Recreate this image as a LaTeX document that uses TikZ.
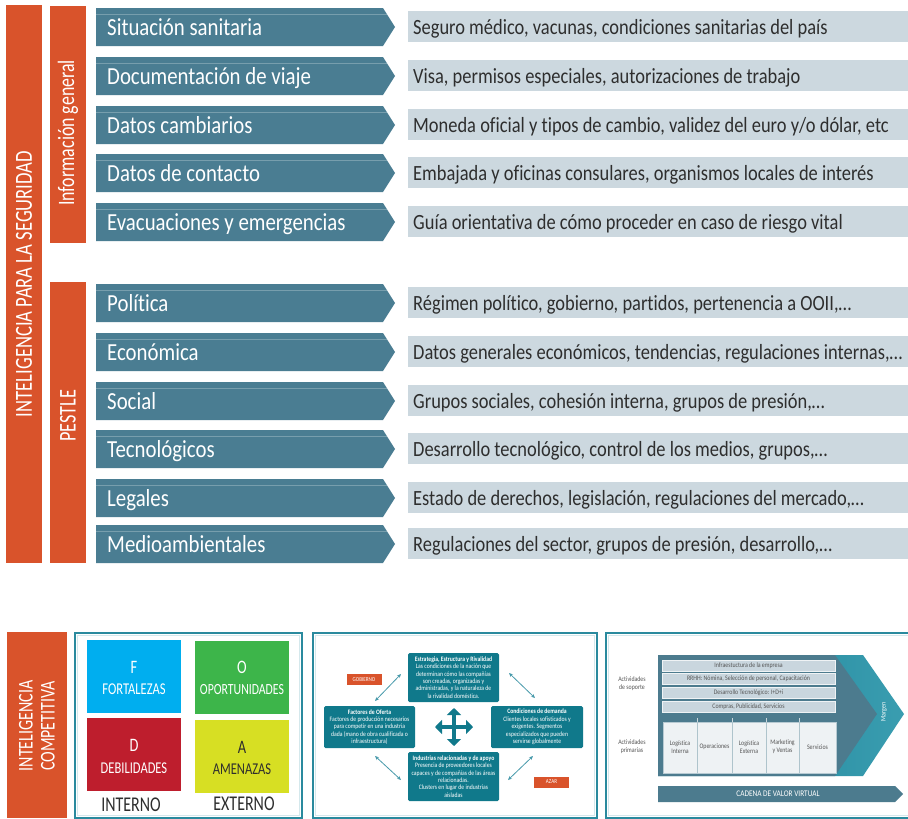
\documentclass[tikz,border=0pt]{standalone}
\usepackage{fontspec}
\setmainfont{Carlito}[FakeStretch=0.85,Ligatures=NoCommon]
\newfontfamily\headfont{Carlito}[FakeStretch=0.76,Ligatures=NoCommon]
\usetikzlibrary{arrows.meta}
\definecolor{orng}{HTML}{D9532B}
\definecolor{slate}{HTML}{4A7D92}
\definecolor{greybox}{HTML}{CCD8DF}
\definecolor{tealbox}{HTML}{10798B}
\definecolor{panelb}{HTML}{2A8A9E}
\definecolor{vcdark}{HTML}{4C7B8E}
\definecolor{vcband}{HTML}{1A8196}
\definecolor{vclight}{HTML}{3A9DB0}
\definecolor{supbox}{HTML}{C9D6DE}
\definecolor{primbox}{HTML}{EEF2F4}
\definecolor{swF}{HTML}{00AEEF}
\definecolor{swO}{HTML}{3DB54A}
\definecolor{swD}{HTML}{BE1E2D}
\definecolor{swA}{HTML}{D7DF23}
\definecolor{txtdark}{HTML}{2E2E2E}
\definecolor{txtgrey}{HTML}{555555}
\begin{document}
\begin{tikzpicture}[x=1pt,y=-1pt,
  bar/.style={fill=orng},
  vlabel/.style={text=white,inner sep=0,font=\headfont\fontsize{24.5}{26}\selectfont},
  arrtext/.style={text=white,inner sep=0,anchor=base west,font=\fontsize{24.5}{26}\selectfont},
  gtext/.style={text=txtdark,inner sep=0,anchor=base west,font=\fontsize{21.7}{24}\selectfont},
  panel/.style={draw=panelb,line width=1.6},
  panelin/.style={draw=white!80!panelb,line width=0.6},
  swbig/.style={inner sep=0,font=\headfont\fontsize{19}{22}\selectfont},
  swword/.style={inner sep=0,font=\headfont\fontsize{16.5}{19}\selectfont},
  pbox/.style={fill=tealbox,rounded corners=1.5,text=white,align=center,inner sep=1,font=\fontsize{6.7}{7.4}\selectfont},
  tag/.style={fill=orng,text=white,inner sep=0,minimum width=35,minimum height=11,font=\fontsize{6}{6.5}\selectfont},
  diag/.style={draw=vcband!80!white,line width=0.8,{Stealth[length=4,width=3.5]}-{Stealth[length=4,width=3.5]}},
  cross/.style={draw=tealbox,line width=4.5,-{Triangle[length=7,width=14]}},
  sup/.style={fill=supbox,draw=white!70!supbox,line width=0.6,text=txtgrey,inner sep=0,minimum width=173,minimum height=11,font=\fontsize{6.9}{7}\selectfont},
  prim/.style={text=txtgrey,align=center,inner sep=0,font=\fontsize{6.9}{7.8}\selectfont},
  side/.style={text=txtgrey,align=center,inner sep=0,font=\fontsize{6.9}{8}\selectfont}]
\useasboundingbox[fill=white] (0,0) rectangle (908,819);

% ---------- top section bars
\fill[bar] (6,5) rectangle (42,563);
\node[vlabel,rotate=90] (seg) at (24,284) {INTELIGENCIA PARA LA SEGURIDAD};
\fill[bar] (50,6) rectangle (86,243);
\node[vlabel,rotate=90,font=\headfont\fontsize{23.5}{24}\selectfont] (info) at (68,133) {Información general};
\fill[bar] (50,282) rectangle (86,563);
\node[vlabel,rotate=90,font=\headfont\fontsize{24}{24}\selectfont] (pestle) at (68,416) {PESTLE};

% ---------- rows
\foreach \t/\i/\a/\g in {
  8/1/{Situación sanitaria}/{Seguro médico, vacunas, condiciones sanitarias del país},
  57/2/{Documentación de viaje}/{Visa, permisos especiales, autorizaciones de trabajo},
  106/3/{Datos cambiarios}/{Moneda oficial y tipos de cambio, validez del euro y/o dólar, etc},
  154/4/{Datos de contacto}/{Embajada y oficinas consulares, organismos locales de interés},
  203/5/{Evacuaciones y emergencias}/{Guía orientativa de cómo proceder en caso de riesgo vital},
  284/6/{Política}/{Régimen político, gobierno, partidos, pertenencia a OOII,…},
  333/7/{Económica}/{Datos generales económicos, tendencias, regulaciones internas,…},
  382/8/{Social}/{Grupos sociales, cohesión interna, grupos de presión,…},
  430/9/{Tecnológicos}/{Desarrollo tecnológico, control de los medios, grupos,…},
  479/10/{Legales}/{Estado de derechos, legislación, regulaciones del mercado,…},
  525/11/{Medioambientales}/{Regulaciones del sector, grupos de presión, desarrollo,…}}{
  \fill[slate] (96,\t) -- (383,\t) -- (395,{\t+19}) -- (383,{\t+38}) -- (96,{\t+38}) -- cycle;
  \draw[white!25!slate,line width=0.5] (96,{\t+6}) -- (387,{\t+6});
  \node[arrtext] (a\i) at (107,{\t+27}) {\a};
  \fill[greybox] (408,{\t+3}) rectangle (908,{\t+34});
  \node[gtext] (g\i) at (413,{\t+26.5}) {\g};
}

% ---------- bottom left: competitive intelligence bar
\fill[bar] (7,632) rectangle (67,818);
\node[vlabel,rotate=90,align=center,font=\headfont\fontsize{21}{22}\selectfont] (comp) at (37,726) {INTELIGENCIA\\COMPETITIVA};

% ---------- SWOT panel
\draw[panel] (75,633) rectangle (302,818);
\draw[panelin] (77.5,635.5) rectangle (299.5,815.5);
\fill[swF] (87,640) rectangle (181,713);
\fill[swO] (195,641) rectangle (289,714);
\fill[swD] (87,718) rectangle (181,791);
\fill[swA] (195,720) rectangle (289,793);
\node[swbig,text=white] (sF) at (134,667) {F};
\node[swword,text=white] (wF) at (134,689) {FORTALEZAS};
\node[swbig,text=white] (sO) at (242,667) {O};
\node[swword,text=white,font=\headfont\fontsize{15.5}{19}\selectfont] (wO) at (242,690) {OPORTUNIDADES};
\node[swbig,text=white] (sD) at (134,745) {D};
\node[swword,text=white] (wD) at (134,768) {DEBILIDADES};
\node[swbig,text=txtdark] (sA) at (242,747) {A};
\node[swword,text=txtdark] (wA) at (242,769) {AMENAZAS};
\node[inner sep=0,text=txtdark,font=\headfont\fontsize{21}{22}\selectfont] (int) at (131,805) {INTERNO};
\node[inner sep=0,text=txtdark,font=\headfont\fontsize{21}{22}\selectfont] (ext) at (244,804) {EXTERNO};

% ---------- Porter panel
\draw[panel] (313,633) rectangle (597,818);
\draw[panelin] (315.5,635.5) rectangle (594.5,815.5);
\node[pbox,minimum width=91,minimum height=49] (ptop) at (453.5,677.5)
  {\textbf{Estrategia, Estructura y Rivalidad}\\Las condiciones de la nación que\\determinan cómo las compañías\\son creadas, organizadas y\\administradas, y la naturaleza de\\la rivalidad doméstica.};
\node[pbox,minimum width=91,minimum height=42] (pleft) at (369.5,727)
  {\textbf{Factores de Oferta}\\Factores de producción necesarios\\para competir en una industria\\dada (mano de obra cualificada o\\infraestructura)};
\node[pbox,minimum width=92,minimum height=42] (pright) at (537,727)
  {\textbf{Condiciones de demanda}\\Clientes locales sofisticados y\\exigentes. Segmentos\\especializados que pueden\\servirse globalmente};
\node[pbox,minimum width=91,minimum height=49] (pbot) at (453.5,776.5)
  {\textbf{Industrias relacionadas y de apoyo}\\Presencia de proveedores locales\\capaces y de compañías de las áreas\\relacionadas.\\Clusters en lugar de industrias\\aisladas};
\node[tag] (gob) at (364,679.5) {GOBIERNO};
\node[tag] (azar) at (551.5,782) {AZAR};
\coordinate (cc) at (454,727);
\coordinate (cN) at (454,708);
\coordinate (cS) at (454,746);
\coordinate (cW) at (435,727);
\coordinate (cE) at (473,727);
\draw[cross] (cc) -- (cN);
\draw[cross] (cc) -- (cS);
\draw[cross] (cc) -- (cW);
\draw[cross] (cc) -- (cE);
\coordinate (d1a) at (375,701); \coordinate (d1b) at (401,674);
\coordinate (d2a) at (509,673); \coordinate (d2b) at (535,698);
\coordinate (d3a) at (375,756); \coordinate (d3b) at (401,780);
\coordinate (d4a) at (508,780); \coordinate (d4b) at (533,756);
\draw[diag] (d1a) -- (d1b);
\draw[diag] (d2a) -- (d2b);
\draw[diag] (d3a) -- (d3b);
\draw[diag] (d4a) -- (d4b);

% ---------- value chain panel
\draw[panel] (606,633) rectangle (912,818);
\draw[panelin] (608.5,635.5) rectangle (912,815.5);
\shade[left color=vcband,right color=vclight] (658,655) -- (863,655) -- (904,714) -- (863,776) -- (658,776) -- cycle;
\fill[vcdark] (658,655) -- (835,655) -- (877,714) -- (835,776) -- (658,776) -- cycle;
\node[inner sep=0,text=white,rotate=90,font=\fontsize{7}{7}\selectfont] (marg) at (884,712) {Margen};
\node[sup] (s1) at (748.5,665.5) {Infraestuctura de la empresa};
\node[sup] (s2) at (748.5,679) {RRHH: Nómina, Selección de personal, Capacitación};
\node[sup] (s3) at (748.5,692.5) {Desarrollo Tecnológico: I+D+i};
\node[sup] (s4) at (748.5,706.5) {Compras, Publicidad, Servicios};
\node[fill=primbox,draw=white!60!vcdark,line width=0.6,minimum width=173,minimum height=51,inner sep=0] (pr) at (749.5,747.5) {};
\foreach \x in {697,732,766,799}{
  \draw[white!55!vcdark,line width=0.5] (\x,722) -- (\x,773);
  \draw[white!70!vcdark,line width=0.5] (\x,718) -- (\x,722);
}
\node[prim] (p1) at (680,747) {Logística\\Interna};
\node[prim] (p2) at (714.5,747) {Operaciones};
\node[prim] (p3) at (749,747) {Logística\\Externa};
\node[prim] (p4) at (782.5,747) {Marketing\\y Ventas};
\node[prim] (p5) at (817.5,747) {Servicios};
\node[side] (as) at (632,684) {Actividades\\de soporte};
\node[side] (ap) at (632,747) {Actividades\\primarias};
\fill[vcdark] (658,786) -- (895,786) -- (903,794) -- (895,802) -- (658,802) -- cycle;
\node[inner sep=0,text=white,font=\fontsize{8.6}{9}\selectfont] (cad) at (778,794) {CADENA DE VALOR VIRTUAL};
\end{tikzpicture}
\end{document}
